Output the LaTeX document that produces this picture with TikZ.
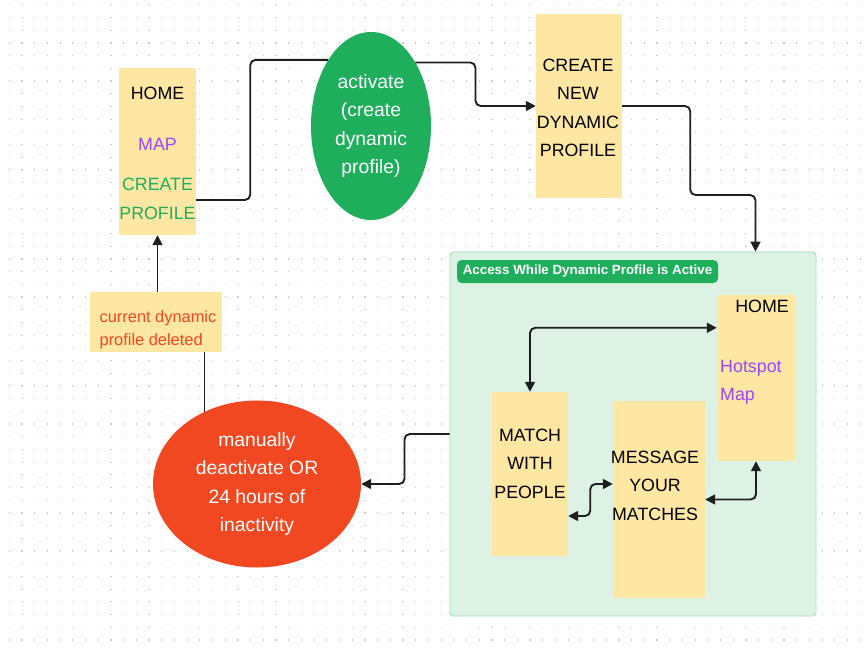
\documentclass[tikz,border=0pt]{standalone}
\usepackage{fontspec}
\setmainfont{Liberation Sans}
\usetikzlibrary{positioning,calc,arrows.meta,shapes.geometric}
\definecolor{stickyc}{RGB}{253,231,163}
\definecolor{actc}{RGB}{30,174,92}
\definecolor{deactc}{RGB}{242,72,34}
\definecolor{mapc}{RGB}{151,71,255}
\definecolor{zonec}{RGB}{221,242,228}
\definecolor{zoneline}{RGB}{160,222,180}
\definecolor{dotc}{RGB}{205,205,205}
\definecolor{linec}{RGB}{30,30,30}

\begin{document}
\begin{tikzpicture}[x=0.03cm,y=-0.03cm]
\tikzstyle{sticky}=[fill=stickyc,inner sep=0pt];
\tikzstyle{lbl}=[inner sep=0pt,align=center,font=\fontsize{15.2}{24.3}\selectfont];
\tikzstyle{blob}=[ellipse,inner sep=0pt,text=white,align=center,font=\fontsize{16.5}{24.3}\selectfont];
\tikzstyle{conn}=[draw=linec,line width=1.6pt,rounded corners=4.5pt];
\tikzstyle{arr}=[-{Triangle[length=8.5pt,width=8.5pt]}];
\tikzstyle{biarr}=[{Triangle[length=8.5pt,width=8.5pt]}-{Triangle[length=8.5pt,width=8.5pt]}];

\useasboundingbox (0,0) rectangle (867,648);
\fill[white] (0,0) rectangle (867,648);
\foreach \i in {0,...,67}
  \foreach \j in {0,...,50}
    \fill[dotc] (8.7+12.7*\i,4.3+12.7*\j) rectangle +(1.2,1.2);

% home / map / create profile
\node[sticky,minimum width=2.31cm,minimum height=5.01cm] (home) at (157.5,151.5) {};
\node[lbl] (homet) at (157.5,93) {HOME};
\node[lbl,text=mapc] (mapt) at (157.5,144) {MAP};
\node[lbl,text=actc] (createt) at (157.5,199) {CREATE\\PROFILE};

\node[blob,fill=actc,minimum width=3.6cm,minimum height=5.64cm] (act) at (371,126) {activate\\(create\\dynamic\\profile)};

\node[sticky,minimum width=2.58cm,minimum height=5.52cm] (newprof) at (579,106) {};
\node[lbl] (newproft) at (578,108) {CREATE\\NEW\\DYNAMIC\\PROFILE};

% active zone
\node[fill=zonec,draw=zoneline,line width=0.8pt,rounded corners=3pt,minimum width=10.98cm,minimum height=10.92cm] (zone) at (633,434) {};
\node[fill=actc,rounded corners=4pt,inner sep=0pt,text=white,font=\bfseries\fontsize{11.4}{13}\selectfont,minimum width=7.83cm,minimum height=0.69cm] (zonetag) at (587.5,271.5) {Access While Dynamic Profile is Active};

\node[sticky,minimum width=2.34cm,minimum height=4.98cm] (home2) at (756,378) {};
\node[lbl] (home2t) at (762,306) {HOME};
\node[lbl,text=mapc,anchor=west,align=left] (hotspott) at (720,382) {Hotspot\\Map};

\node[sticky,minimum width=2.28cm,minimum height=4.92cm] (match) at (530,474) {};
\node[lbl] (matcht) at (530,463.5) {MATCH\\WITH\\PEOPLE};

\node[sticky,minimum width=2.76cm,minimum height=5.91cm] (message) at (659,499.5) {};
\node[lbl] (messaget) at (655,485.5) {MESSAGE\\YOUR\\MATCHES};

% deactivation
\node[sticky,minimum width=3.96cm,minimum height=1.8cm] (deleted) at (156,322) {};
\node[inner sep=0pt,text=deactc,align=left,font=\fontsize{14}{19.6}\selectfont] (deletedt) at (158,329.5) {current dynamic\\profile deleted};

\node[blob,fill=deactc,minimum width=6.24cm,minimum height=5.01cm] (deact) at (257,484) {manually\\deactivate OR\\24 hours of\\inactivity};

% connectors
\draw[conn] ([yshift=-1.455cm]home.east) -- ++(54,0) |- (act.123);
\draw[conn,arr] (act.55) -- ++(60,0) |- (newprof.west);
\draw[conn,arr] (newprof.east) -- ++(68,0) -- ++(0,89) -| ($(zone.north east)+(-61,0)$);
\draw[conn,arr] (zone.west) -- ++(-45,0) |- (deact.east);
\draw[conn] (deact.126) -- (deact.126 |- deleted.south);
\draw[conn,arr] (home.south |- deleted.north) -- (home.south);

\draw[conn,biarr] (match.north) |- ([yshift=-0.99cm]home2.north west);
\draw[conn,biarr] ([yshift=-1.26cm]match.east) -- ++(22,0) |- ([yshift=0.465cm]message.west);
\draw[conn,biarr] (message.east) -| (home2.south);

\end{tikzpicture}
\end{document}
